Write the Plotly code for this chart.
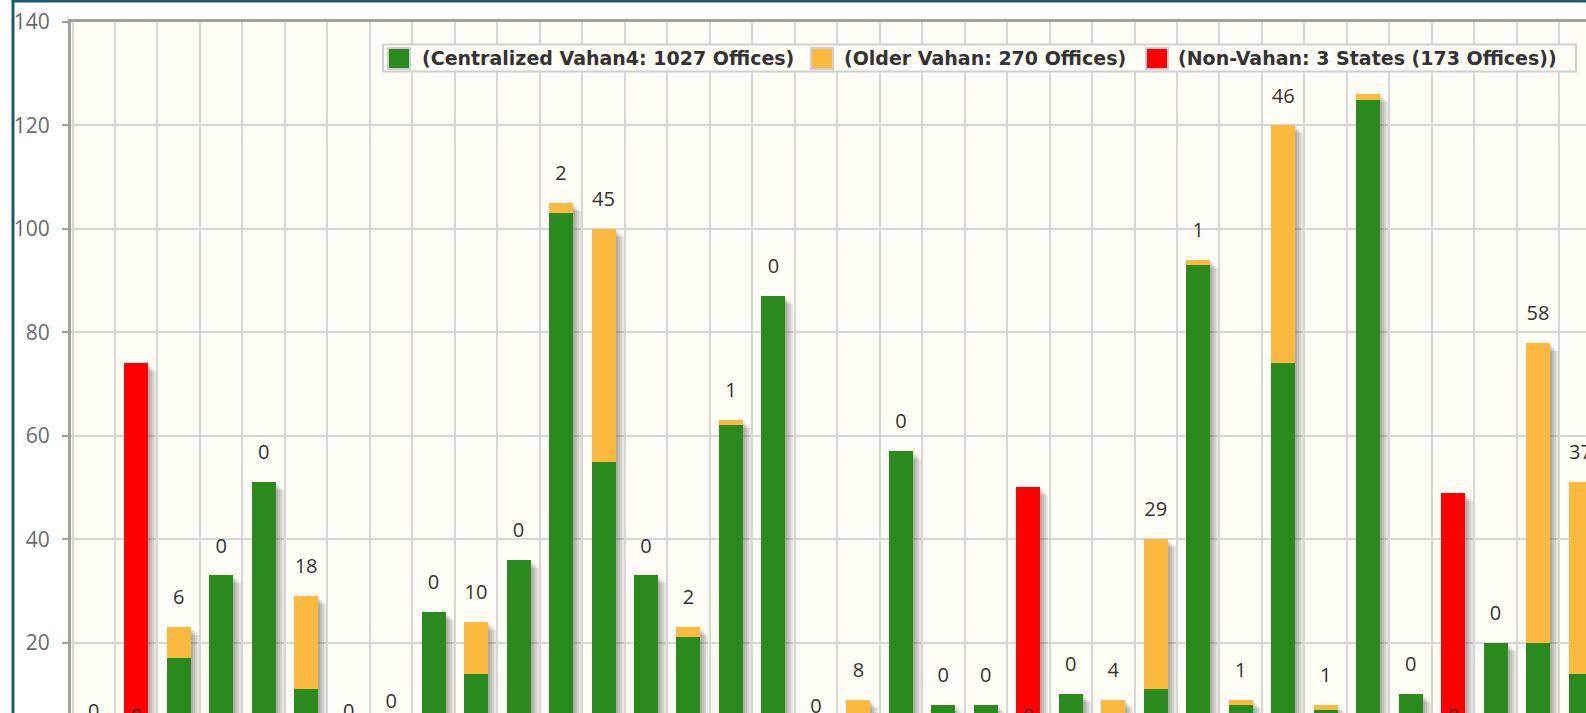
import plotly.graph_objects as go

# ---------------- data ----------------
categories = [f"S{i:02d}" for i in range(1, 37)]
centralized = [1, 0, 17, 33, 51, 11, 1, 3, 26, 14, 36, 103, 55, 33, 21, 62, 87, 2,
               1, 57, 8, 8, 0, 10, 5, 11, 93, 8, 74, 7, 125, 10, 0, 20, 20, 14]
older = [0, 0, 6, 0, 0, 18, 0, 0, 0, 10, 0, 2, 45, 0, 2, 1, 0, 0,
         8, 0, 0, 0, 0, 0, 4, 29, 1, 1, 46, 1, 1, 0, 0, 0, 58, 37]
non_vahan = [0, 74, 0, 0, 0, 0, 0, 0, 0, 0, 0, 0, 0, 0, 0, 0, 0, 0,
             0, 0, 0, 0, 50, 0, 0, 0, 0, 0, 0, 0, 0, 0, 49, 0, 0, 0]
series_names = ["(Centralized Vahan4: 1027 Offices)",
                "(Older Vahan: 270 Offices)",
                "(Non-Vahan: 3 States (173 Offices))"]
y_ticks = [20, 40, 60, 80, 100, 120, 140]

# ---------------- style ----------------
GREEN = "#2b8a1e"
ORANGE = "#fbba3f"
RED = "#ff0000"
SERIES_COLORS = [GREEN, ORANGE, RED]
PLOT_BG = "#fffdf5"
GRID = "#d6d6d6"
AXIS = "#a0a0a0"

W, H = 1586, 713
ML, MR, MT, MB = 71, 0, 22, 0
plot_w = W - ML - MR
plot_h = H - MT - MB
cat_px = 42.48
px_per_unit = 5.172
x0 = -0.5 - 1.5 / cat_px
x1 = x0 + plot_w / cat_px
y1 = 140
y0 = y1 - plot_h / px_per_unit

BAR_W = 0.565
xpx = 1.0 / cat_px       # one pixel in category units
ypx = 1.0 / px_per_unit  # one pixel in value units


def px_x(px):
    return (px - ML) / plot_w


def px_y(py):
    return 1 - (py - MT) / plot_h


vahan_total = [c + o for c, o in zip(centralized, older)]
bar_total = [v + n for v, n in zip(vahan_total, non_vahan)]

fig = go.Figure()

# soft drop shadows (drawn first, behind the bars)
for k in (2, 4, 6, 8):
    fig.add_trace(go.Bar(
        x=categories, y=bar_total, base=[-k * ypx] * len(categories),
        width=BAR_W, offset=-BAR_W / 2 + k * xpx,
        marker=dict(color="rgba(60,60,60,0.12)", line=dict(width=0)),
        showlegend=False, hoverinfo="skip"))

fig.add_trace(go.Bar(
    x=categories, y=centralized, width=BAR_W, offset=-BAR_W / 2,
    marker=dict(color=GREEN, line=dict(width=0)), showlegend=False,
    name=series_names[0]))
fig.add_trace(go.Bar(
    x=categories, y=older, base=centralized, width=BAR_W, offset=-BAR_W / 2,
    marker=dict(color=ORANGE, line=dict(width=0)), showlegend=False,
    name=series_names[1]))
fig.add_trace(go.Bar(
    x=categories, y=non_vahan, width=BAR_W, offset=-BAR_W / 2,
    marker=dict(color=RED, line=dict(width=0)), showlegend=False,
    name=series_names[2]))

# value labels (older-vahan count above the vahan stack)
fig.add_trace(go.Scatter(
    x=categories, y=vahan_total, mode="markers+text",
    text=[str(v) for v in older], textposition="top center",
    marker=dict(size=27, opacity=0, color="rgba(0,0,0,0)"),
    textfont=dict(family="Open Sans", size=20, color="#333333"),
    showlegend=False, hoverinfo="skip", cliponaxis=True))

# ---------------- legend box (drawn as shapes + text) ----------------
LEG_LEFT, LEG_RIGHT, LEG_TOP, LEG_BOTTOM = 383, 1576, 44.5, 71.5
swatch_left = [388, 811, 1146]
text_left = [420, 842, 1176]
shapes = [dict(
    type="rect", xref="paper", yref="paper",
    x0=px_x(13), x1=1.2, y0=-0.2, y1=px_y(1),
    line=dict(color="#1f5a73", width=3), fillcolor="rgba(0,0,0,0)", layer="below")]
shapes.append(dict(
    type="rect", xref="paper", yref="paper",
    x0=px_x(LEG_LEFT), x1=px_x(LEG_RIGHT), y0=px_y(LEG_BOTTOM), y1=px_y(LEG_TOP),
    line=dict(color="#d0d0d0", width=2), fillcolor=PLOT_BG, layer="above"))
annotations = []
for nm, col, sx, tx in zip(series_names, SERIES_COLORS, swatch_left, text_left):
    shapes.append(dict(
        type="rect", xref="paper", yref="paper",
        x0=px_x(sx), x1=px_x(sx + 22), y0=px_y(69), y1=px_y(48),
        line=dict(color="#cfcfcf", width=2), fillcolor=col, layer="above"))
    annotations.append(dict(
        xref="paper", yref="paper", x=px_x(tx), y=px_y(58.5),
        xanchor="left", yanchor="middle", showarrow=False, text=nm,
        font=dict(family="DejaVu Sans", size=19, color="#333333", weight="bold")))

fig.update_layout(
    width=W, height=H,
    margin=dict(l=ML, r=MR, t=MT, b=MB, pad=0),
    barmode="overlay",
    paper_bgcolor="white",
    plot_bgcolor=PLOT_BG,
    bargap=0,
    showlegend=False,
    xaxis=dict(
        type="category", range=[x0, x1], tickson="boundaries",
        showticklabels=False, ticks="", showgrid=True, gridcolor=GRID, gridwidth=2,
        showline=True, mirror=True, linecolor=AXIS, linewidth=3, zeroline=False,
        fixedrange=True,
    ),
    yaxis=dict(
        range=[y0, y1], tickvals=y_ticks, showgrid=True, gridcolor=GRID, gridwidth=2,
        ticks="outside", ticklen=6, tickwidth=2, tickcolor=AXIS,
        showline=True, linecolor=AXIS, linewidth=3, zeroline=False,
        tickfont=dict(family="Open Sans", size=21, color="#6a6a6a"),
        ticklabelstandoff=8, fixedrange=True,
    ),
    shapes=shapes,
    annotations=annotations,
)

fig.write_html(
    "out.html",
    config={"displayModeBar": False},
    post_script="document.body.style.margin='0';document.body.style.overflow='hidden';",
)
